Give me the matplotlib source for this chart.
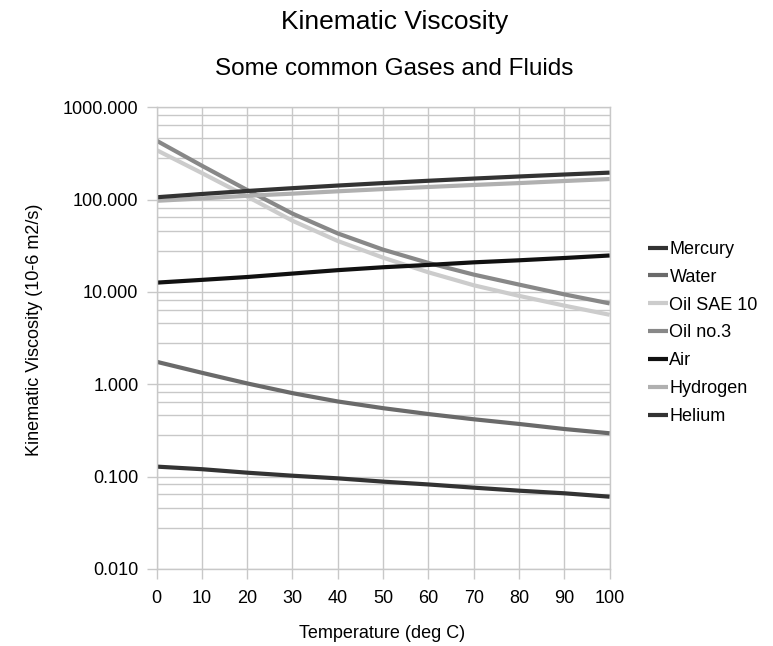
import matplotlib
matplotlib.use("Agg")
import matplotlib.pyplot as plt
import matplotlib.ticker as ticker

plt.rcParams["font.family"] = ["Liberation Sans", "DejaVu Sans"]

# kinematic viscosity, 10^-6 m2/s
temps = [0, 10, 20, 30, 40, 50, 60, 70, 80, 90, 100]
mercury = [0.128, 0.120, 0.110, 0.102, 0.0955, 0.088, 0.082, 0.0757, 0.0702, 0.0658, 0.0604]
water = [1.75, 1.33, 1.02, 0.80, 0.65, 0.55, 0.475, 0.417, 0.371, 0.327, 0.294]
oil_sae10 = [344, 194, 108, 59, 35.6, 23.5, 16.3, 11.8, 9.06, 7.1, 5.65]
oil_no3 = [435, 233, 127, 70.5, 43, 28.7, 20.6, 15.4, 12.0, 9.4, 7.5]
air = [12.6, 13.5, 14.5, 15.8, 17.2, 18.5, 19.6, 20.9, 22.0, 23.3, 24.8]
hydrogen = [97, 103, 110, 116, 123, 130, 137, 144, 151, 159, 167]
helium = [106, 115, 124, 133, 142, 151, 160, 169, 178, 187, 196]

series = [
    ("Mercury", mercury, "#333333"),
    ("Water", water, "#6a6a6a"),
    ("Oil SAE 10", oil_sae10, "#cccccc"),
    ("Oil no.3", oil_no3, "#888888"),
    ("Air", air, "#111111"),
    ("Hydrogen", hydrogen, "#b0b0b0"),
    ("Helium", helium, "#333333"),
]

grid_c = "#c8c8c8"

fig = plt.figure(figsize=(7.73, 6.46), dpi=100)
ax = fig.add_axes([0.2025, 0.1195, 0.5862, 0.7144])

for name, vals, col in series:
    ax.plot(temps, vals, color=col, linewidth=3.0, label=name, solid_capstyle="butt")

ax.set_yscale("log")
ax.set_ylim(0.01, 1000)
ax.set_xlim(0, 100)
ax.set_xticks(range(0, 101, 10))
ax.yaxis.set_major_locator(ticker.FixedLocator([0.01, 0.1, 1, 10, 100, 1000]))
ax.yaxis.set_major_formatter(ticker.FormatStrFormatter("%.3f"))
minor = [k * 10.0 ** n for n in range(-2, 3) for k in (2.8, 4.6, 6.4, 8.2)]
ax.yaxis.set_minor_locator(ticker.FixedLocator(minor))
ax.yaxis.set_minor_formatter(ticker.NullFormatter())

ax.grid(True, which="both", color=grid_c, linewidth=1.0)
ax.set_axisbelow(True)
for s in ax.spines.values():
    s.set_color(grid_c)
    s.set_linewidth(1.0)

ax.tick_params(which="major", length=7, width=1.0, color=grid_c, labelsize=13, pad=6)
ax.tick_params(axis="x", pad=8)
ax.tick_params(which="minor", length=0)

fig.text(0.51, 0.966, "Kinematic Viscosity", ha="center", va="center", fontsize=19)
fig.text(0.51, 0.893, "Some common Gases and Fluids", ha="center", va="center", fontsize=17.5)
fig.text(0.494, 0.02, "Temperature (deg C)", ha="center", va="center", fontsize=13)
fig.text(0.045, 0.489, "Kinematic Viscosity (10-6 m2/s)", ha="center", va="center",
         rotation=90, fontsize=13)

fig.legend(loc="upper left", bbox_to_anchor=(0.838, 0.627), frameon=False,
           fontsize=13, handlelength=1.1, handletextpad=0.1, labelspacing=0.6,
           borderpad=0, borderaxespad=0)

fig.savefig("out.png")
